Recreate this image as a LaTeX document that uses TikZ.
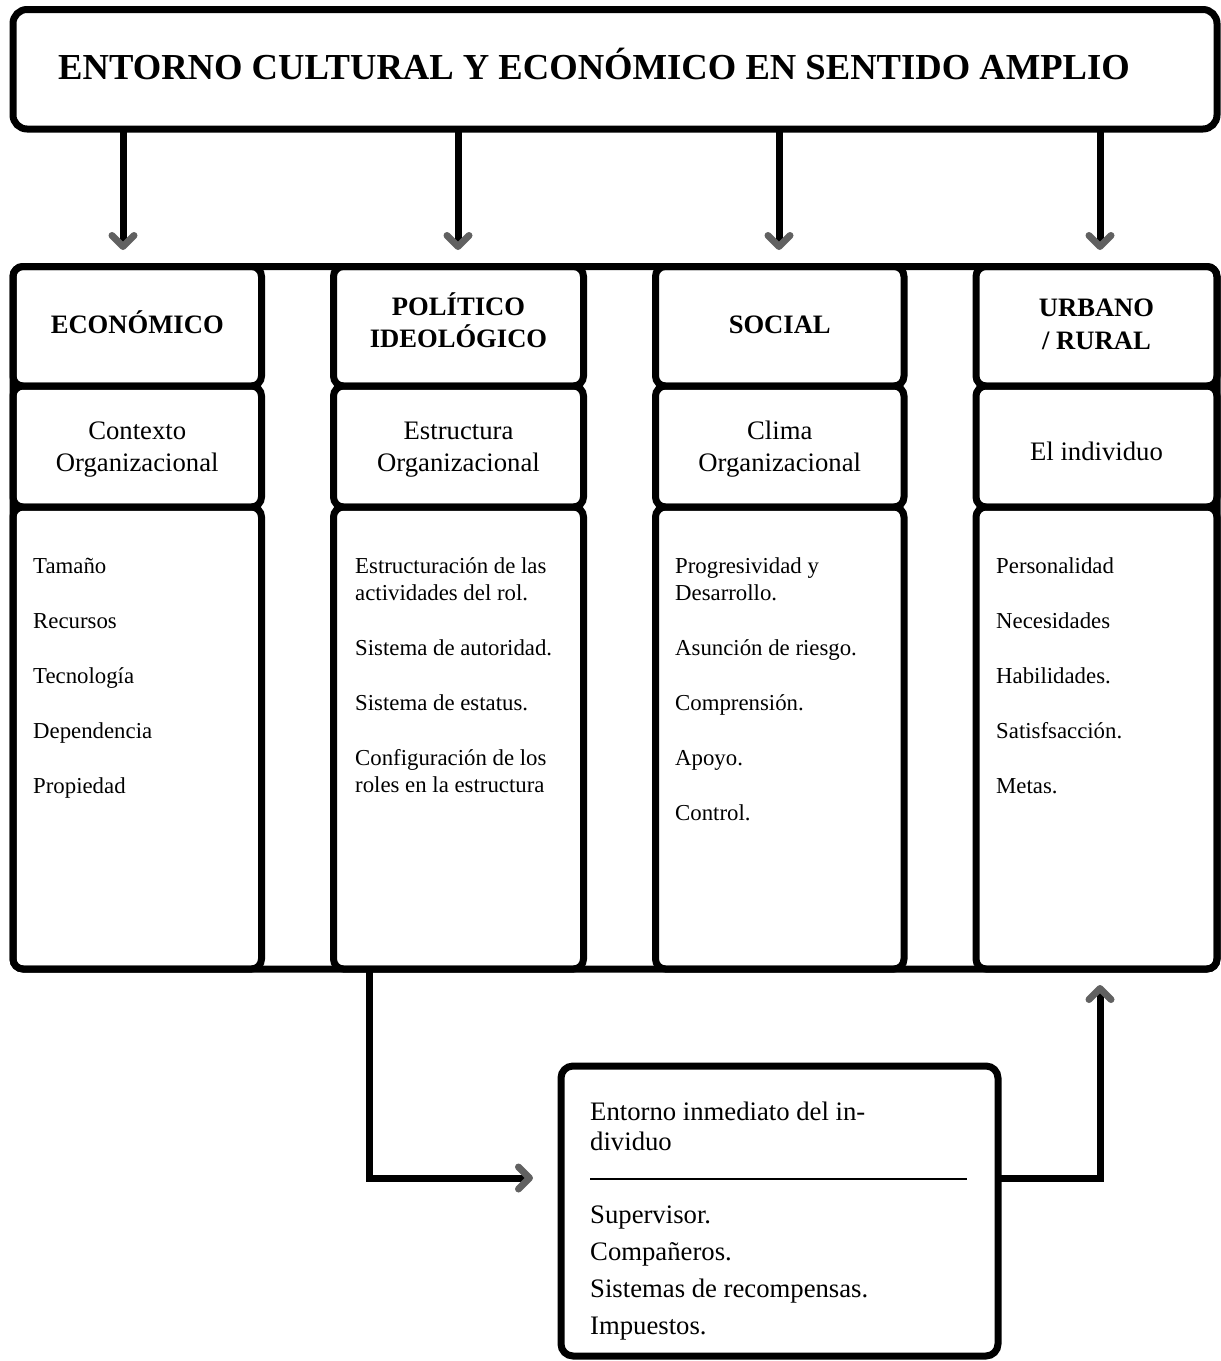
\documentclass[tikz,border=0pt]{standalone}
\usepackage{fontspec}
\setmainfont{Liberation Serif}
\usetikzlibrary{arrows.meta}
\begin{document}
\begin{tikzpicture}[x=1pt,y=-1pt,
  frame/.style={draw=black, line width=7pt, rounded corners=10pt, inner sep=0pt, outer sep=0pt},
  conn/.style={line width=7pt, -{Straight Barb[round,length=11pt,width=22pt,color=black!62]}},
  ttl/.style={font=\fontsize{36.6}{44}\selectfont\bfseries, anchor=base west, inner sep=0pt},
  hdr/.style={font=\fontsize{26.6}{32}\selectfont\bfseries, anchor=base, inner sep=0pt},
  sub/.style={font=\fontsize{26.7}{32}\selectfont, anchor=base, inner sep=0pt},
  item/.style={font=\fontsize{22.8}{27}\selectfont, anchor=base west, inner sep=0pt},
  envtxt/.style={font=\fontsize{26.7}{37}\selectfont, anchor=base west, inner sep=0pt}]
\useasboundingbox (0,0) rectangle (1221,1361);

% top banner
\node[frame, rounded corners=14pt, minimum width=1204pt, minimum height=119.5pt] (top) at (615,69.25) {};
\node[ttl] (ttl) at (58,79) {ENTORNO CULTURAL Y ECONÓMICO EN SENTIDO AMPLIO};

% outer frame around the four columns
\node[frame, minimum width=1204pt, minimum height=702.5pt] (outer) at (615,617.75) {};

% columns: header, subtitle and list boxes
\foreach \c/\l/\r in {1/13/261.5, 2/333.5/583.5, 3/655.5/904, 4/976/1217}{
  \pgfmathsetmacro{\cx}{(\l+\r)/2}
  \pgfmathsetmacro{\w}{\r-\l}
  \node[frame, minimum width=\w pt, minimum height=119.5pt] (h\c) at (\cx,326.25) {};
  \node[frame, minimum width=\w pt, minimum height=121pt] (s\c) at (\cx,446.5) {};
  \node[frame, minimum width=\w pt, minimum height=462pt] (l\c) at (\cx,738) {};
}

% headers
\node[hdr] (h1a) at (137.25,333) {ECONÓMICO};
\node[hdr] (h2a) at (458.5,315) {POLÍTICO};
\node[hdr] (h2b) at (458.5,347) {IDEOLÓGICO};
\node[hdr] (h3a) at (779.75,333) {SOCIAL};
\node[hdr] (h4a) at (1096.5,316) {URBANO};
\node[hdr] (h4b) at (1096.5,349) {/ RURAL};

% subtitles
\node[sub] (s1a) at (137.25,439) {Contexto};
\node[sub] (s1b) at (137.25,471) {Organizacional};
\node[sub] (s2a) at (458.5,439) {Estructura};
\node[sub] (s2b) at (458.5,471) {Organizacional};
\node[sub] (s3a) at (779.75,439) {Clima};
\node[sub] (s3b) at (779.75,471) {Organizacional};
\node[sub] (s4a) at (1096.5,460) {El individuo};

% list items
\node[item] (i11) at (33,573) {Tamaño};
\node[item] (i12) at (33,628) {Recursos};
\node[item] (i13) at (33,683) {Tecnología};
\node[item] (i14) at (33,738) {Dependencia};
\node[item] (i15) at (33,793) {Propiedad};

\node[item] (i21) at (355,573) {Estructuración de las};
\node[item] (i22) at (355,600) {actividades del rol.};
\node[item] (i23) at (355,655) {Sistema de autoridad.};
\node[item] (i24) at (355,710) {Sistema de estatus.};
\node[item] (i25) at (355,765) {Configuración de los};
\node[item] (i26) at (355,792) {roles en la estructura};

\node[item] (i31) at (675,573) {Progresividad y};
\node[item] (i32) at (675,600) {Desarrollo.};
\node[item] (i33) at (675,655) {Asunción de riesgo.};
\node[item] (i34) at (675,710) {Comprensión.};
\node[item] (i35) at (675,765) {Apoyo.};
\node[item] (i36) at (675,820) {Control.};

\node[item] (i41) at (996,573) {Personalidad};
\node[item] (i42) at (996,628) {Necesidades};
\node[item] (i43) at (996,683) {Habilidades.};
\node[item] (i44) at (996,738) {Satisfsacción.};
\node[item] (i45) at (996,793) {Metas.};

% immediate environment box
\node[frame, rounded corners=12pt, minimum width=437pt, minimum height=290pt] (env) at (779.5,1211) {};
\node[envtxt] (e1) at (590,1120) {Entorno inmediato del in-};
\node[envtxt] (e2) at (590,1150) {dividuo};
\coordinate (ra) at (590,1179);
\coordinate (rb) at (967,1179);
\draw[line width=2.5pt] (ra) -- (rb);
\node[envtxt] (e3) at (590,1223) {Supervisor.};
\node[envtxt] (e4) at (590,1260) {Compañeros.};
\node[envtxt] (e5) at (590,1297) {Sistemas de recompensas.};
\node[envtxt] (e6) at (590,1334) {Impuestos.};

% arrows from the banner to the columns
\coordinate (t1) at (123,250);
\coordinate (t2) at (458,250);
\coordinate (t3) at (779,250);
\coordinate (t4) at (1100,250);
\foreach \k in {1,2,3,4}{
  \draw[conn] (t\k |- top.south) -- (t\k);
}

% structure -> immediate environment -> individual
\coordinate (d1) at (369,1178);
\coordinate (d2) at (533,1178);
\draw[conn] (d1 |- l2.south) -- (d1) -- (d2);
\coordinate (u1) at (1100,1178);
\coordinate (u2) at (1100,985);
\draw[conn] (env.east |- u1) -- (u1) -- (u2);
\end{tikzpicture}
\end{document}
